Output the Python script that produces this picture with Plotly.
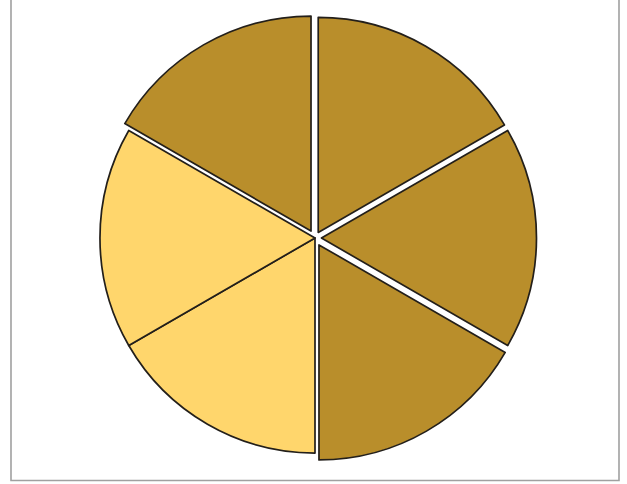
import plotly.graph_objects as go

labels = ["A", "B", "C", "D", "E", "F"]
values = [1, 1, 1, 1, 1, 1]
colors = ["#B98E2B", "#B98E2B", "#B98E2B", "#FFD66C", "#FFD66C", "#B98E2B"]
pulls = [0.03, 0.03, 0.037, 0, 0, 0.037]

W, H = 627, 484
ML, MR, MT, MB = 10, 7, 15, 23

fig = go.Figure(go.Pie(
    labels=labels, values=values, sort=False, direction="clockwise", rotation=0,
    pull=pulls, textinfo="none", hoverinfo="none",
    marker=dict(colors=colors, line=dict(color="#231F1A", width=1.7)),
    showlegend=False,
))

def px_x(p):
    return (p - ML) / (W - ML - MR)

def px_y(p):
    return 1 - (p - MT) / (H - MT - MB)

fig.update_layout(
    width=W, height=H,
    margin=dict(l=ML, r=MR, t=MT, b=MB),
    paper_bgcolor="white", plot_bgcolor="white",
    shapes=[dict(type="rect", xref="paper", yref="paper",
                 x0=px_x(11), x1=px_x(619), y0=px_y(480.5), y1=px_y(-5),
                 line=dict(color="#A0A0A0", width=1.6), layer="below")],
)

fig.write_html("out.html")
